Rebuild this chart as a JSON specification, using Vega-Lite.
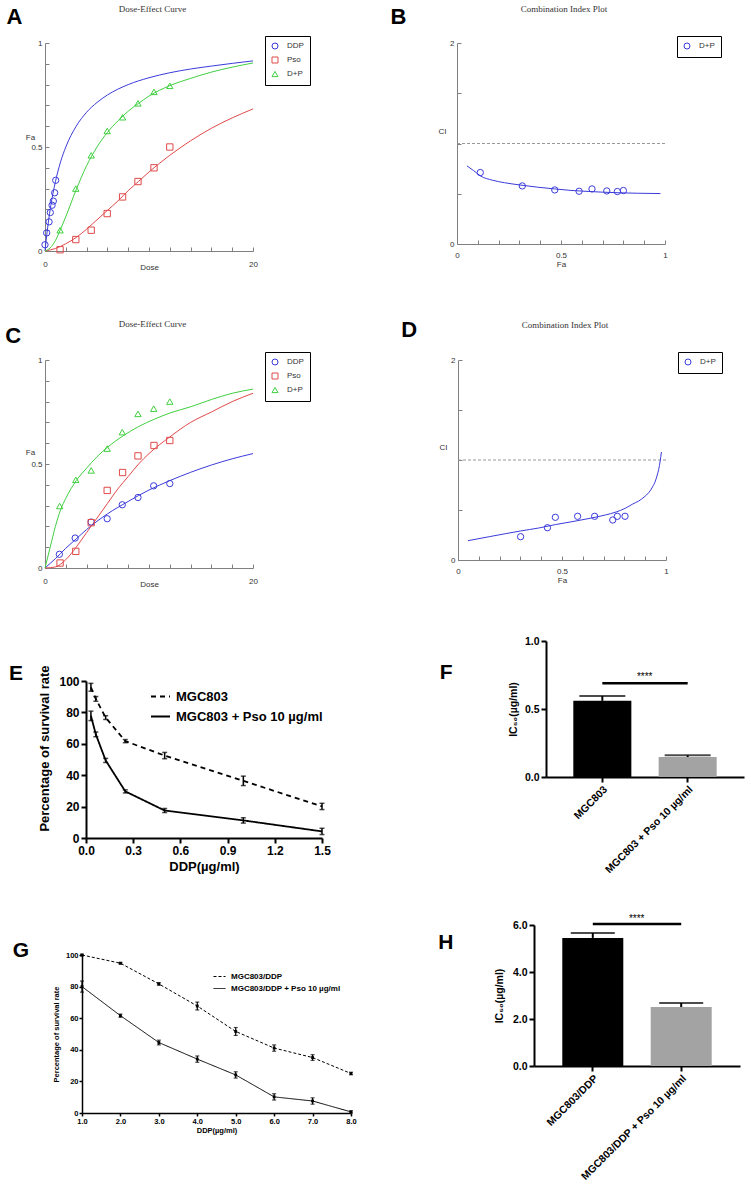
{
  "$schema": "https://vega.github.io/schema/vega-lite/v6.json",
  "padding": 5,
  "background": "white",
  "config": {"view": {"stroke": null}, "font": "Liberation Sans", "axis": {"grid": false, "labelOverlap": false, "labelFlush": false}},
  "resolve": {"scale": {"color": "independent", "stroke": "independent", "shape": "independent", "strokeDash": "independent"}, "legend": {"color": "independent", "stroke": "independent", "shape": "independent", "strokeDash": "independent"}},
  "datasets": {
    "curveA": [
      {"curve":"DDP","dose":0,"fa":0},{"curve":"DDP","dose":0.25,"fa":0.111},{"curve":"DDP","dose":0.5,"fa":0.2},{"curve":"DDP","dose":0.75,"fa":0.273},{"curve":"DDP","dose":1,"fa":0.333},{"curve":"DDP","dose":1.5,"fa":0.429},{"curve":"DDP","dose":2,"fa":0.5},{"curve":"DDP","dose":3,"fa":0.6},{"curve":"DDP","dose":4,"fa":0.667},{"curve":"DDP","dose":5,"fa":0.714},{"curve":"DDP","dose":6,"fa":0.75},{"curve":"DDP","dose":8,"fa":0.8},{"curve":"DDP","dose":10,"fa":0.833},{"curve":"DDP","dose":12,"fa":0.857},{"curve":"DDP","dose":14,"fa":0.875},{"curve":"DDP","dose":16,"fa":0.889},{"curve":"DDP","dose":18,"fa":0.902},{"curve":"DDP","dose":20,"fa":0.914},
      {"curve":"Pso","dose":0,"fa":0},{"curve":"Pso","dose":1,"fa":0.012},{"curve":"Pso","dose":2,"fa":0.035},{"curve":"Pso","dose":3,"fa":0.065},{"curve":"Pso","dose":4,"fa":0.105},{"curve":"Pso","dose":5,"fa":0.15},{"curve":"Pso","dose":6,"fa":0.195},{"curve":"Pso","dose":7,"fa":0.24},{"curve":"Pso","dose":8,"fa":0.29},{"curve":"Pso","dose":9,"fa":0.335},{"curve":"Pso","dose":10,"fa":0.38},{"curve":"Pso","dose":12,"fa":0.46},{"curve":"Pso","dose":14,"fa":0.53},{"curve":"Pso","dose":16,"fa":0.59},{"curve":"Pso","dose":18,"fa":0.64},{"curve":"Pso","dose":20,"fa":0.683},
      {"curve":"D+P","dose":0,"fa":0},{"curve":"D+P","dose":0.5,"fa":0.015},{"curve":"D+P","dose":1,"fa":0.05},{"curve":"D+P","dose":1.5,"fa":0.105},{"curve":"D+P","dose":2,"fa":0.165},{"curve":"D+P","dose":3,"fa":0.295},{"curve":"D+P","dose":4,"fa":0.41},{"curve":"D+P","dose":5,"fa":0.5},{"curve":"D+P","dose":6,"fa":0.57},{"curve":"D+P","dose":7,"fa":0.625},{"curve":"D+P","dose":8,"fa":0.672},{"curve":"D+P","dose":9,"fa":0.71},{"curve":"D+P","dose":10,"fa":0.745},{"curve":"D+P","dose":12,"fa":0.795},{"curve":"D+P","dose":14,"fa":0.83},{"curve":"D+P","dose":16,"fa":0.86},{"curve":"D+P","dose":18,"fa":0.884},{"curve":"D+P","dose":20,"fa":0.904}
    ],
    "ptsA": [
      {"drug":"DDP","dose":0,"fa":0.03},{"drug":"DDP","dose":0.16,"fa":0.087},{"drug":"DDP","dose":0.39,"fa":0.14},{"drug":"DDP","dose":0.51,"fa":0.185},{"drug":"DDP","dose":0.68,"fa":0.22},{"drug":"DDP","dose":0.8,"fa":0.24},{"drug":"DDP","dose":0.93,"fa":0.28},{"drug":"DDP","dose":1.03,"fa":0.34},
      {"drug":"Pso","dose":1.45,"fa":0.006},{"drug":"Pso","dose":2.96,"fa":0.055},{"drug":"Pso","dose":4.44,"fa":0.1},{"drug":"Pso","dose":5.98,"fa":0.18},{"drug":"Pso","dose":7.46,"fa":0.26},{"drug":"Pso","dose":8.94,"fa":0.334},{"drug":"Pso","dose":10.48,"fa":0.4},{"drug":"Pso","dose":12,"fa":0.5},
      {"drug":"D+P","dose":1.45,"fa":0.1},{"drug":"D+P","dose":2.96,"fa":0.3},{"drug":"D+P","dose":4.44,"fa":0.46},{"drug":"D+P","dose":5.98,"fa":0.577},{"drug":"D+P","dose":7.46,"fa":0.643},{"drug":"D+P","dose":8.94,"fa":0.71},{"drug":"D+P","dose":10.48,"fa":0.765},{"drug":"D+P","dose":12,"fa":0.794}
    ],
    "curveC": [
      {"curve":"DDP","dose":0,"fa":0},{"curve":"DDP","dose":1,"fa":0.045},{"curve":"DDP","dose":2,"fa":0.095},{"curve":"DDP","dose":3,"fa":0.14},{"curve":"DDP","dose":4,"fa":0.185},{"curve":"DDP","dose":6,"fa":0.26},{"curve":"DDP","dose":8,"fa":0.32},{"curve":"DDP","dose":10,"fa":0.375},{"curve":"DDP","dose":12,"fa":0.42},{"curve":"DDP","dose":14,"fa":0.46},{"curve":"DDP","dose":16,"fa":0.495},{"curve":"DDP","dose":18,"fa":0.525},{"curve":"DDP","dose":20,"fa":0.55},
      {"curve":"Pso","dose":0,"fa":0},{"curve":"Pso","dose":1,"fa":0.005},{"curve":"Pso","dose":2,"fa":0.04},{"curve":"Pso","dose":3,"fa":0.1},{"curve":"Pso","dose":4,"fa":0.17},{"curve":"Pso","dose":5,"fa":0.24},{"curve":"Pso","dose":6,"fa":0.31},{"curve":"Pso","dose":7,"fa":0.38},{"curve":"Pso","dose":8,"fa":0.44},{"curve":"Pso","dose":9,"fa":0.5},{"curve":"Pso","dose":10,"fa":0.55},{"curve":"Pso","dose":12,"fa":0.63},{"curve":"Pso","dose":14,"fa":0.7},{"curve":"Pso","dose":16,"fa":0.75},{"curve":"Pso","dose":18,"fa":0.8},{"curve":"Pso","dose":20,"fa":0.84},
      {"curve":"D+P","dose":0,"fa":0},{"curve":"D+P","dose":0.5,"fa":0.1},{"curve":"D+P","dose":1,"fa":0.2},{"curve":"D+P","dose":1.5,"fa":0.28},{"curve":"D+P","dose":2,"fa":0.335},{"curve":"D+P","dose":3,"fa":0.42},{"curve":"D+P","dose":4,"fa":0.48},{"curve":"D+P","dose":5,"fa":0.535},{"curve":"D+P","dose":6,"fa":0.58},{"curve":"D+P","dose":7.5,"fa":0.635},{"curve":"D+P","dose":9,"fa":0.68},{"curve":"D+P","dose":10.5,"fa":0.715},{"curve":"D+P","dose":12,"fa":0.745},{"curve":"D+P","dose":14,"fa":0.775},{"curve":"D+P","dose":16,"fa":0.81},{"curve":"D+P","dose":18,"fa":0.84},{"curve":"D+P","dose":20,"fa":0.86}
    ],
    "ptsC": [
      {"drug":"DDP","dose":1.38,"fa":0.066},{"drug":"DDP","dose":2.9,"fa":0.144},{"drug":"DDP","dose":4.44,"fa":0.221},{"drug":"DDP","dose":5.98,"fa":0.237},{"drug":"DDP","dose":7.43,"fa":0.304},{"drug":"DDP","dose":8.94,"fa":0.339},{"drug":"DDP","dose":10.45,"fa":0.395},{"drug":"DDP","dose":12,"fa":0.406},
      {"drug":"Pso","dose":1.45,"fa":0.024},{"drug":"Pso","dose":2.96,"fa":0.08},{"drug":"Pso","dose":4.44,"fa":0.218},{"drug":"Pso","dose":5.98,"fa":0.373},{"drug":"Pso","dose":7.46,"fa":0.459},{"drug":"Pso","dose":8.94,"fa":0.539},{"drug":"Pso","dose":10.48,"fa":0.589},{"drug":"Pso","dose":12,"fa":0.613},
      {"drug":"D+P","dose":1.41,"fa":0.298},{"drug":"D+P","dose":2.96,"fa":0.424},{"drug":"D+P","dose":4.44,"fa":0.469},{"drug":"D+P","dose":5.98,"fa":0.574},{"drug":"D+P","dose":7.43,"fa":0.653},{"drug":"D+P","dose":8.94,"fa":0.741},{"drug":"D+P","dose":10.45,"fa":0.766},{"drug":"D+P","dose":12,"fa":0.8}
    ],
    "curveB": [
      {"fa":0.048,"ci":0.777},{"fa":0.08,"ci":0.73},{"fa":0.115,"ci":0.675},{"fa":0.17,"ci":0.635},{"fa":0.228,"ci":0.61},{"fa":0.3,"ci":0.588},{"fa":0.388,"ci":0.565},{"fa":0.47,"ci":0.548},{"fa":0.548,"ci":0.533},{"fa":0.63,"ci":0.523},{"fa":0.708,"ci":0.515},{"fa":0.79,"ci":0.509},{"fa":0.869,"ci":0.505},{"fa":0.978,"ci":0.502}
    ],
    "ptsB": [
      {"drug":"D+P","fa":0.112,"ci":0.711},{"drug":"D+P","fa":0.314,"ci":0.578},{"drug":"D+P","fa":0.47,"ci":0.538},{"drug":"D+P","fa":0.587,"ci":0.525},{"drug":"D+P","fa":0.649,"ci":0.548},{"drug":"D+P","fa":0.72,"ci":0.528},{"drug":"D+P","fa":0.771,"ci":0.522},{"drug":"D+P","fa":0.8,"ci":0.532}
    ],
    "curveD": [
      {"fa":0.048,"ci":0.193},{"fa":0.15,"ci":0.233},{"fa":0.228,"ci":0.263},{"fa":0.3,"ci":0.29},{"fa":0.388,"ci":0.32},{"fa":0.47,"ci":0.355},{"fa":0.548,"ci":0.383},{"fa":0.63,"ci":0.415},{"fa":0.708,"ci":0.45},{"fa":0.76,"ci":0.48},{"fa":0.804,"ci":0.517},{"fa":0.84,"ci":0.56},{"fa":0.869,"ci":0.59},{"fa":0.895,"ci":0.63},{"fa":0.917,"ci":0.673},{"fa":0.935,"ci":0.73},{"fa":0.949,"ci":0.79},{"fa":0.958,"ci":0.85},{"fa":0.965,"ci":0.907},{"fa":0.972,"ci":0.99},{"fa":0.978,"ci":1.08}
    ],
    "ptsD": [
      {"drug":"D+P","fa":0.301,"ci":0.233},{"drug":"D+P","fa":0.43,"ci":0.323},{"drug":"D+P","fa":0.468,"ci":0.427},{"drug":"D+P","fa":0.575,"ci":0.437},{"drug":"D+P","fa":0.657,"ci":0.437},{"drug":"D+P","fa":0.744,"ci":0.4},{"drug":"D+P","fa":0.766,"ci":0.437},{"drug":"D+P","fa":0.803,"ci":0.437}
    ],
    "survE": [
      {"series":"MGC803","dose":0.03125,"mean":96,"lo":93.5,"hi":98.5},{"series":"MGC803","dose":0.0625,"mean":88.6,"lo":87.1,"hi":90.1},{"series":"MGC803","dose":0.125,"mean":76.7,"lo":75.5,"hi":77.9},{"series":"MGC803","dose":0.25,"mean":61.7,"lo":60.7,"hi":62.7},{"series":"MGC803","dose":0.5,"mean":52.5,"lo":50.5,"hi":54.5},{"series":"MGC803","dose":1,"mean":36.4,"lo":33.4,"hi":39.4},{"series":"MGC803","dose":1.5,"mean":20.1,"lo":18.1,"hi":22.1},
      {"series":"MGC803 + Pso 10 µg/ml","dose":0.03125,"mean":77.8,"lo":74.8,"hi":80.8},{"series":"MGC803 + Pso 10 µg/ml","dose":0.0625,"mean":66,"lo":64.5,"hi":67.5},{"series":"MGC803 + Pso 10 µg/ml","dose":0.125,"mean":49.4,"lo":48.1,"hi":50.7},{"series":"MGC803 + Pso 10 µg/ml","dose":0.25,"mean":29.7,"lo":28.7,"hi":30.7},{"series":"MGC803 + Pso 10 µg/ml","dose":0.5,"mean":17.5,"lo":16.2,"hi":18.8},{"series":"MGC803 + Pso 10 µg/ml","dose":1,"mean":11.2,"lo":9.5,"hi":12.9},{"series":"MGC803 + Pso 10 µg/ml","dose":1.5,"mean":4.2,"lo":2.2,"hi":6.2}
    ],
    "icF": [
      {"grp":"MGC803","ic50":0.56,"hi":0.595},{"grp":"MGC803 + Pso 10 µg/ml","ic50":0.147,"hi":0.16}
    ],
    "survG": [
      {"series":"MGC803/DDP","dose":1,"mean":100,"lo":99.5,"hi":100.5},{"series":"MGC803/DDP","dose":2,"mean":94.8,"lo":94.3,"hi":95.3},{"series":"MGC803/DDP","dose":3,"mean":81.7,"lo":80.9,"hi":82.5},{"series":"MGC803/DDP","dose":4,"mean":67.7,"lo":65.2,"hi":70.2},{"series":"MGC803/DDP","dose":5,"mean":51.6,"lo":49.1,"hi":54.1},{"series":"MGC803/DDP","dose":6,"mean":41.1,"lo":39.1,"hi":43.1},{"series":"MGC803/DDP","dose":7,"mean":35.1,"lo":33.3,"hi":36.9},{"series":"MGC803/DDP","dose":8,"mean":25,"lo":24.2,"hi":25.8},
      {"series":"MGC803/DDP + Pso 10 µg/ml","dose":1,"mean":80,"lo":76.5,"hi":83.5},{"series":"MGC803/DDP + Pso 10 µg/ml","dose":2,"mean":61.6,"lo":60.6,"hi":62.6},{"series":"MGC803/DDP + Pso 10 µg/ml","dose":3,"mean":44.6,"lo":43.1,"hi":46.1},{"series":"MGC803/DDP + Pso 10 µg/ml","dose":4,"mean":34.1,"lo":32.1,"hi":36.1},{"series":"MGC803/DDP + Pso 10 µg/ml","dose":5,"mean":24.1,"lo":22.1,"hi":26.1},{"series":"MGC803/DDP + Pso 10 µg/ml","dose":6,"mean":10.2,"lo":8.2,"hi":12.2},{"series":"MGC803/DDP + Pso 10 µg/ml","dose":7,"mean":7.6,"lo":5.6,"hi":9.6},{"series":"MGC803/DDP + Pso 10 µg/ml","dose":8,"mean":0.7,"lo":0,"hi":1.4}
    ],
    "icH": [
      {"grp":"MGC803/DDP","ic50":5.45,"hi":5.66},{"grp":"MGC803/DDP + Pso 10 µg/ml","ic50":2.51,"hi":2.68}
    ]
  },
  "vconcat": [
    {
      "spacing": 48,
      "resolve": {"scale": {"color": "independent", "stroke": "independent", "shape": "independent", "strokeDash": "independent"}, "legend": {"color": "independent", "stroke": "independent", "shape": "independent", "strokeDash": "independent"}},
      "vconcat": [
        {
          "spacing": 79,
          "resolve": {"scale": {"color": "independent", "stroke": "independent", "shape": "independent", "strokeDash": "independent"}, "legend": {"color": "independent", "stroke": "independent", "shape": "independent", "strokeDash": "independent"}},
          "hconcat": [
            {
              "width": 208, "height": 208,
              "layer": [
                {"data": {"name": "curveA"}, "mark": {"type": "line", "strokeWidth": 1, "interpolate": "monotone"},
                 "encoding": {
                   "x": {"field": "dose", "type": "quantitative", "scale": {"domain": [0, 20], "nice": false, "zero": false},
                         "axis": {"title": "Dose", "values": [0,2,4,6,8,10,12,14,16,18,20], "tickCount": 30, "format": "~g", "labelExpr": "datum.value==0||datum.value==20?datum.label:''", "domainColor": "#808080", "tickColor": "#808080", "tickSize": -4, "labelPadding": 13, "labelFontSize": 8, "labelColor": "#333", "titleFontSize": 8, "titleFontWeight": "normal", "titleColor": "#333", "titlePadding": -5, "labelOverlap": false}},
                   "y": {"field": "fa", "type": "quantitative", "scale": {"domain": [0, 1], "nice": false},
                         "axis": {"title": "Fa", "values": [0,0.1,0.2,0.3,0.4,0.5,0.6,0.7,0.8,0.9,1], "tickCount": 30, "format": "~g", "labelExpr": "datum.value==0||datum.value==0.5||datum.value==1?datum.label:''", "domainColor": "#808080", "tickColor": "#808080", "tickSize": -4, "labelPadding": 7, "labelFontSize": 8, "labelColor": "#333", "titleFontSize": 8, "titleFontWeight": "normal", "titleColor": "#333", "titleAngle": 0, "titleX": -15, "titleY": 94, "titleAlign": "center", "titleBaseline": "middle", "labelOverlap": false}},
                   "stroke": {"field": "curve", "type": "nominal", "scale": {"domain": ["D+P","DDP","Pso"], "range": ["#40cf40","#3b3bdb","#e04a4a"]}, "legend": null}
                 }},
                {"data": {"name": "ptsA"}, "mark": {"type": "point", "filled": false, "size": 40, "strokeWidth": 1, "opacity": 1},
                 "encoding": {
                   "x": {"field": "dose", "type": "quantitative", "scale": {"domain": [0, 20], "nice": false, "zero": false}},
                   "y": {"field": "fa", "type": "quantitative", "scale": {"domain": [0, 1], "nice": false}},
                   "color": {"field": "drug", "type": "nominal", "scale": {"domain": ["DDP","Pso","D+P"], "range": ["#3b3bdb","#e04a4a","#40cf40"]},
                             "legend": {"orient": "none", "legendX": 220, "legendY": -7, "title": null, "strokeColor": "black", "fillColor": "white", "padding": 6, "labelFontSize": 8, "labelColor": "#333", "symbolSize": 36, "symbolStrokeWidth": 1, "rowPadding": 4, "labelOffset": 8}},
                   "shape": {"field": "drug", "type": "nominal", "scale": {"domain": ["DDP","Pso","D+P"], "range": ["circle","square","triangle-up"]},
                             "legend": {"orient": "none", "legendX": 220, "legendY": -7, "title": null, "strokeColor": "black", "fillColor": "white", "padding": 6, "labelFontSize": 8, "labelColor": "#333", "symbolSize": 36, "symbolStrokeWidth": 1, "rowPadding": 4, "labelOffset": 8}}
                 }},
                {"data": {"values": [{"t": "Dose-Effect Curve"}]}, "mark": {"type": "text", "font": "Liberation Serif", "fontSize": 9, "color": "#333"},
                 "encoding": {"x": {"datum": 10.34, "type": "quantitative", "scale": {"domain": [0, 20], "nice": false, "zero": false}}, "y": {"datum": 1.163, "type": "quantitative", "scale": {"domain": [0, 1], "nice": false}}, "text": {"field": "t"}}},
                {"data": {"values": [{"t": "A"}]}, "mark": {"type": "text", "fontSize": 22, "fontWeight": "bold", "color": "black"},
                 "encoding": {"x": {"datum": -2.93, "type": "quantitative", "scale": {"domain": [0, 20], "nice": false, "zero": false}}, "y": {"datum": 1.126, "type": "quantitative", "scale": {"domain": [0, 1], "nice": false}}, "text": {"field": "t"}}}
              ]
            },
            {
              "width": 208, "height": 201,
              "layer": [
                {"data": {"values": [{}]}, "mark": {"type": "rule", "color": "#999", "strokeDash": [3, 2], "strokeWidth": 1},
                 "encoding": {"y": {"datum": 1, "type": "quantitative", "scale": {"domain": [0, 2], "nice": false}}}},
                {"data": {"name": "curveB"}, "mark": {"type": "line", "strokeWidth": 1, "interpolate": "monotone", "color": "#3b3bdb"},
                 "encoding": {
                   "x": {"field": "fa", "type": "quantitative", "scale": {"domain": [0, 1], "nice": false},
                         "axis": {"title": "Fa", "values": [0,0.1,0.2,0.3,0.4,0.5,0.6,0.7,0.8,0.9,1], "tickCount": 30, "format": "~g", "labelExpr": "datum.value==0||datum.value==0.5||datum.value==1?datum.label:''", "domainColor": "#808080", "tickColor": "#808080", "tickSize": -4, "labelPadding": 11, "labelFontSize": 8, "labelColor": "#333", "titleFontSize": 8, "titleFontWeight": "normal", "titleColor": "#333", "titlePadding": 1, "labelOverlap": false}},
                   "y": {"field": "ci", "type": "quantitative", "scale": {"domain": [0, 2], "nice": false},
                         "axis": {"title": "CI", "values": [0,0.5,1,1.5,2], "tickCount": 30, "format": "~g", "labelExpr": "datum.value==0||datum.value==2?datum.label:''", "domainColor": "#808080", "tickColor": "#808080", "tickSize": -4, "labelPadding": 7, "labelFontSize": 8, "labelColor": "#333", "titleFontSize": 8, "titleFontWeight": "normal", "titleColor": "#333", "titleAngle": 0, "titleX": -15, "titleY": 88, "titleAlign": "center", "titleBaseline": "middle", "labelOverlap": false}}
                 }},
                {"data": {"name": "ptsB"}, "mark": {"type": "point", "filled": false, "size": 40, "strokeWidth": 1, "opacity": 1},
                 "encoding": {
                   "x": {"field": "fa", "type": "quantitative", "scale": {"domain": [0, 1], "nice": false}},
                   "y": {"field": "ci", "type": "quantitative", "scale": {"domain": [0, 2], "nice": false}},
                   "color": {"field": "drug", "type": "nominal", "scale": {"domain": ["D+P"], "range": ["#3b3bdb"]},
                             "legend": {"orient": "none", "legendX": 220, "legendY": -7, "title": null, "strokeColor": "black", "fillColor": "white", "padding": 6, "labelFontSize": 8, "labelColor": "#333", "symbolSize": 36, "symbolStrokeWidth": 1, "labelOffset": 8}}
                 }},
                {"data": {"values": [{"t": "Combination Index Plot"}]}, "mark": {"type": "text", "font": "Liberation Serif", "fontSize": 9, "color": "#333"},
                 "encoding": {"x": {"datum": 0.514, "type": "quantitative", "scale": {"domain": [0, 1], "nice": false}}, "y": {"datum": 2.338, "type": "quantitative", "scale": {"domain": [0, 2], "nice": false}}, "text": {"field": "t"}}},
                {"data": {"values": [{"t": "B"}]}, "mark": {"type": "text", "fontSize": 22, "fontWeight": "bold", "color": "black"},
                 "encoding": {"x": {"datum": -0.281, "type": "quantitative", "scale": {"domain": [0, 1], "nice": false}}, "y": {"datum": 2.259, "type": "quantitative", "scale": {"domain": [0, 2], "nice": false}}, "text": {"field": "t"}}}
              ]
            }
          ]
        },
        {
          "spacing": 90,
          "resolve": {"scale": {"color": "independent", "stroke": "independent", "shape": "independent", "strokeDash": "independent"}, "legend": {"color": "independent", "stroke": "independent", "shape": "independent", "strokeDash": "independent"}},
          "hconcat": [
            {
              "width": 208, "height": 208,
              "layer": [
                {"data": {"name": "curveC"}, "mark": {"type": "line", "strokeWidth": 1, "interpolate": "monotone"},
                 "encoding": {
                   "x": {"field": "dose", "type": "quantitative", "scale": {"domain": [0, 20], "nice": false, "zero": false},
                         "axis": {"title": "Dose", "values": [0,2,4,6,8,10,12,14,16,18,20], "tickCount": 30, "format": "~g", "labelExpr": "datum.value==0||datum.value==20?datum.label:''", "domainColor": "#808080", "tickColor": "#808080", "tickSize": -4, "labelPadding": 13, "labelFontSize": 8, "labelColor": "#333", "titleFontSize": 8, "titleFontWeight": "normal", "titleColor": "#333", "titlePadding": -5, "labelOverlap": false}},
                   "y": {"field": "fa", "type": "quantitative", "scale": {"domain": [0, 1], "nice": false},
                         "axis": {"title": "Fa", "values": [0,0.1,0.2,0.3,0.4,0.5,0.6,0.7,0.8,0.9,1], "tickCount": 30, "format": "~g", "labelExpr": "datum.value==0||datum.value==0.5||datum.value==1?datum.label:''", "domainColor": "#808080", "tickColor": "#808080", "tickSize": -4, "labelPadding": 7, "labelFontSize": 8, "labelColor": "#333", "titleFontSize": 8, "titleFontWeight": "normal", "titleColor": "#333", "titleAngle": 0, "titleX": -15, "titleY": 92, "titleAlign": "center", "titleBaseline": "middle", "labelOverlap": false}},
                   "stroke": {"field": "curve", "type": "nominal", "scale": {"domain": ["D+P","DDP","Pso"], "range": ["#40cf40","#3b3bdb","#e04a4a"]}, "legend": null}
                 }},
                {"data": {"name": "ptsC"}, "mark": {"type": "point", "filled": false, "size": 40, "strokeWidth": 1, "opacity": 1},
                 "encoding": {
                   "x": {"field": "dose", "type": "quantitative", "scale": {"domain": [0, 20], "nice": false, "zero": false}},
                   "y": {"field": "fa", "type": "quantitative", "scale": {"domain": [0, 1], "nice": false}},
                   "color": {"field": "drug", "type": "nominal", "scale": {"domain": ["DDP","Pso","D+P"], "range": ["#3b3bdb","#e04a4a","#40cf40"]},
                             "legend": {"orient": "none", "legendX": 220, "legendY": -8, "title": null, "strokeColor": "black", "fillColor": "white", "padding": 6, "labelFontSize": 8, "labelColor": "#333", "symbolSize": 36, "symbolStrokeWidth": 1, "rowPadding": 4, "labelOffset": 8}},
                   "shape": {"field": "drug", "type": "nominal", "scale": {"domain": ["DDP","Pso","D+P"], "range": ["circle","square","triangle-up"]},
                             "legend": {"orient": "none", "legendX": 220, "legendY": -8, "title": null, "strokeColor": "black", "fillColor": "white", "padding": 6, "labelFontSize": 8, "labelColor": "#333", "symbolSize": 36, "symbolStrokeWidth": 1, "rowPadding": 4, "labelOffset": 8}}
                 }},
                {"data": {"values": [{"t": "Dose-Effect Curve"}]}, "mark": {"type": "text", "font": "Liberation Serif", "fontSize": 9, "color": "#333"},
                 "encoding": {"x": {"datum": 10.34, "type": "quantitative", "scale": {"domain": [0, 20], "nice": false, "zero": false}}, "y": {"datum": 1.173, "type": "quantitative", "scale": {"domain": [0, 1], "nice": false}}, "text": {"field": "t"}}},
                {"data": {"values": [{"t": "C"}]}, "mark": {"type": "text", "fontSize": 22, "fontWeight": "bold", "color": "black"},
                 "encoding": {"x": {"datum": -3.05, "type": "quantitative", "scale": {"domain": [0, 20], "nice": false, "zero": false}}, "y": {"datum": 1.117, "type": "quantitative", "scale": {"domain": [0, 1], "nice": false}}, "text": {"field": "t"}}}
              ]
            },
            {
              "width": 208, "height": 200,
              "layer": [
                {"data": {"values": [{}]}, "mark": {"type": "rule", "color": "#999", "strokeDash": [3, 2], "strokeWidth": 1},
                 "encoding": {"y": {"datum": 1, "type": "quantitative", "scale": {"domain": [0, 2], "nice": false}}}},
                {"data": {"name": "curveD"}, "mark": {"type": "line", "strokeWidth": 1, "interpolate": "monotone", "color": "#3b3bdb"},
                 "encoding": {
                   "x": {"field": "fa", "type": "quantitative", "scale": {"domain": [0, 1], "nice": false},
                         "axis": {"title": "Fa", "values": [0,0.1,0.2,0.3,0.4,0.5,0.6,0.7,0.8,0.9,1], "tickCount": 30, "format": "~g", "labelExpr": "datum.value==0||datum.value==0.5||datum.value==1?datum.label:''", "domainColor": "#808080", "tickColor": "#808080", "tickSize": -4, "labelPadding": 11, "labelFontSize": 8, "labelColor": "#333", "titleFontSize": 8, "titleFontWeight": "normal", "titleColor": "#333", "titlePadding": 1, "labelOverlap": false}},
                   "y": {"field": "ci", "type": "quantitative", "scale": {"domain": [0, 2], "nice": false},
                         "axis": {"title": "CI", "values": [0,0.5,1,1.5,2], "tickCount": 30, "format": "~g", "labelExpr": "datum.value==0||datum.value==2?datum.label:''", "domainColor": "#808080", "tickColor": "#808080", "tickSize": -4, "labelPadding": 7, "labelFontSize": 8, "labelColor": "#333", "titleFontSize": 8, "titleFontWeight": "normal", "titleColor": "#333", "titleAngle": 0, "titleX": -15, "titleY": 87, "titleAlign": "center", "titleBaseline": "middle", "labelOverlap": false}}
                 }},
                {"data": {"name": "ptsD"}, "mark": {"type": "point", "filled": false, "size": 40, "strokeWidth": 1, "opacity": 1},
                 "encoding": {
                   "x": {"field": "fa", "type": "quantitative", "scale": {"domain": [0, 1], "nice": false}},
                   "y": {"field": "ci", "type": "quantitative", "scale": {"domain": [0, 2], "nice": false}},
                   "color": {"field": "drug", "type": "nominal", "scale": {"domain": ["D+P"], "range": ["#3b3bdb"]},
                             "legend": {"orient": "none", "legendX": 220, "legendY": -8, "title": null, "strokeColor": "black", "fillColor": "white", "padding": 6, "labelFontSize": 8, "labelColor": "#333", "symbolSize": 36, "symbolStrokeWidth": 1, "labelOffset": 8}}
                 }},
                {"data": {"values": [{"t": "Combination Index Plot"}]}, "mark": {"type": "text", "font": "Liberation Serif", "fontSize": 9, "color": "#333"},
                 "encoding": {"x": {"datum": 0.514, "type": "quantitative", "scale": {"domain": [0, 1], "nice": false}}, "y": {"datum": 2.353, "type": "quantitative", "scale": {"domain": [0, 2], "nice": false}}, "text": {"field": "t"}}},
                {"data": {"values": [{"t": "D"}]}, "mark": {"type": "text", "fontSize": 22, "fontWeight": "bold", "color": "black"},
                 "encoding": {"x": {"datum": -0.235, "type": "quantitative", "scale": {"domain": [0, 1], "nice": false}}, "y": {"datum": 2.297, "type": "quantitative", "scale": {"domain": [0, 2], "nice": false}}, "text": {"field": "t"}}}
              ]
            }
          ]
        },
        {
          "spacing": 108,
          "resolve": {"scale": {"color": "independent", "stroke": "independent", "shape": "independent", "strokeDash": "independent"}, "legend": {"color": "independent", "stroke": "independent", "shape": "independent", "strokeDash": "independent"}},
          "hconcat": [
            {
              "width": 277, "height": 197,
              "layer": [
                {"data": {"name": "survE"}, "mark": {"type": "line", "strokeWidth": 1.8, "color": "black"},
                 "encoding": {
                   "x": {"field": "dose", "type": "quantitative", "title": "DDP(µg/ml)", "scale": {"domain": [0, 1.5], "nice": false, "zero": false, "range": [41, 277]},
                         "axis": {"values": [0,0.3,0.6,0.9,1.2,1.5], "tickCount": 30, "format": ".1f", "domainColor": "black", "domainWidth": 2, "tickColor": "black", "tickWidth": 2, "tickSize": 5, "labelPadding": 2, "labelFontSize": 12, "labelFontWeight": "bold", "labelColor": "black", "titleFontSize": 13, "titleFontWeight": "bold", "titleColor": "black", "titlePadding": 4, "labelOverlap": false}},
                   "y": {"field": "mean", "type": "quantitative", "title": "Percentage of survival rate", "scale": {"domain": [0, 100], "nice": false, "range": [197, 40]},
                         "axis": {"offset": -41, "values": [0,20,40,60,80,100], "tickCount": 30, "domainColor": "black", "domainWidth": 2, "tickColor": "black", "tickWidth": 2, "tickSize": 5, "labelPadding": 2, "labelFontSize": 12, "labelFontWeight": "bold", "labelColor": "black", "titleFontSize": 13, "titleFontWeight": "bold", "titleColor": "black", "titlePadding": 7, "titleY": 107, "labelOverlap": false}},
                   "strokeDash": {"field": "series", "type": "nominal", "scale": {"domain": ["MGC803", "MGC803 + Pso 10 µg/ml"], "range": [[5, 4], [1, 0]]},
                                  "legend": {"orient": "none", "legendX": 105, "legendY": 45, "title": null, "symbolType": "stroke", "symbolSize": 361, "symbolStrokeWidth": 2, "symbolStrokeColor": "black", "labelFontSize": 13, "labelFontWeight": "bold", "labelColor": "black", "labelOffset": 5, "rowPadding": 2, "padding": 0}}
                 }},
                {"data": {"name": "survE"}, "mark": {"type": "rule", "color": "black", "strokeWidth": 1.5},
                 "encoding": {
                   "x": {"field": "dose", "type": "quantitative", "title": "DDP(µg/ml)", "scale": {"domain": [0, 1.5], "nice": false, "zero": false, "range": [41, 277]}},
                   "y": {"field": "lo", "type": "quantitative", "title": "Percentage of survival rate", "scale": {"domain": [0, 100], "nice": false, "range": [197, 40]}},
                   "y2": {"field": "hi"}
                 }},
                {"data": {"name": "survE"}, "mark": {"type": "tick", "orient": "horizontal", "color": "black", "size": 5, "thickness": 1.5},
                 "encoding": {
                   "x": {"field": "dose", "type": "quantitative", "title": "DDP(µg/ml)", "scale": {"domain": [0, 1.5], "nice": false, "zero": false, "range": [41, 277]}},
                   "y": {"field": "hi", "type": "quantitative", "title": "Percentage of survival rate", "scale": {"domain": [0, 100], "nice": false, "range": [197, 40]}}
                 }},
                {"data": {"name": "survE"}, "mark": {"type": "tick", "orient": "horizontal", "color": "black", "size": 5, "thickness": 1.5},
                 "encoding": {
                   "x": {"field": "dose", "type": "quantitative", "title": "DDP(µg/ml)", "scale": {"domain": [0, 1.5], "nice": false, "zero": false, "range": [41, 277]}},
                   "y": {"field": "lo", "type": "quantitative", "title": "Percentage of survival rate", "scale": {"domain": [0, 100], "nice": false, "range": [197, 40]}}
                 }},
                {"data": {"values": [{"t": "E"}]}, "mark": {"type": "text", "fontSize": 21, "fontWeight": "bold", "color": "black"},
                 "encoding": {"x": {"datum": -0.445, "type": "quantitative", "title": "DDP(µg/ml)", "scale": {"domain": [0, 1.5], "nice": false, "zero": false, "range": [41, 277]}}, "y": {"datum": 104.4, "type": "quantitative", "title": "Percentage of survival rate", "scale": {"domain": [0, 100], "nice": false, "range": [197, 40]}}, "text": {"field": "t"}}}
              ]
            },
            {
              "width": 198, "height": 136,
              "layer": [
                {"data": {"name": "icF"}, "mark": {"type": "bar"},
                 "encoding": {
                   "x": {"field": "grp", "type": "nominal", "sort": null, "title": null, "scale": {"domain": ["MGC803", "MGC803 + Pso 10 µg/ml"], "paddingInner": 0.32, "paddingOuter": 0.32},
                         "axis": {"labelAngle": -45, "domainColor": "black", "domainWidth": 2, "tickColor": "black", "tickWidth": 2, "tickSize": 5, "labelPadding": 2, "labelFontSize": 10.5, "labelFontWeight": "bold", "labelColor": "black"}},
                   "y": {"field": "ic50", "type": "quantitative", "title": "IC₅₀(µg/ml)", "scale": {"domain": [0, 1], "nice": false},
                         "axis": {"values": [0, 0.5, 1], "tickCount": 30, "format": ".1f", "domainColor": "black", "domainWidth": 2, "tickColor": "black", "tickWidth": 2, "tickSize": 5, "labelPadding": 2, "labelFontSize": 10.5, "labelFontWeight": "bold", "labelColor": "black", "titleFontSize": 10.5, "titleFontWeight": "bold", "titleColor": "black", "titlePadding": 6, "labelOverlap": false}},
                   "color": {"field": "grp", "type": "nominal", "scale": {"domain": ["MGC803", "MGC803 + Pso 10 µg/ml"], "range": ["black", "#a3a3a3"]}, "legend": null}
                 }},
                {"data": {"name": "icF"}, "mark": {"type": "rule", "color": "black", "strokeWidth": 2},
                 "encoding": {"x": {"field": "grp", "type": "nominal", "title": null}, "y": {"field": "ic50", "type": "quantitative", "title": "IC₅₀(µg/ml)"}, "y2": {"field": "hi"}}},
                {"data": {"name": "icF"}, "mark": {"type": "tick", "orient": "horizontal", "color": "black", "size": 46, "thickness": 2},
                 "encoding": {"x": {"field": "grp", "type": "nominal", "title": null}, "y": {"field": "hi", "type": "quantitative", "title": "IC₅₀(µg/ml)"}}},
                {"data": {"values": [{"a": "MGC803", "b": "MGC803 + Pso 10 µg/ml"}]}, "mark": {"type": "rule", "color": "black", "strokeWidth": 2.5},
                 "encoding": {"x": {"field": "a", "type": "nominal", "title": null}, "x2": {"field": "b"}, "y": {"datum": 0.69, "type": "quantitative", "title": "IC₅₀(µg/ml)"}}},
                {"data": {"values": [{"t": "****"}]}, "mark": {"type": "text", "fontSize": 10, "color": "black", "baseline": "alphabetic"},
                 "encoding": {"x": {"datum": "MGC803", "type": "nominal", "bandPosition": 1.23, "title": null}, "y": {"datum": 0.715, "type": "quantitative", "title": "IC₅₀(µg/ml)"}, "text": {"field": "t"}}},
                {"data": {"values": [{"t": "F"}]}, "mark": {"type": "text", "fontSize": 21, "fontWeight": "bold", "color": "black"},
                 "encoding": {"x": {"datum": "MGC803", "type": "nominal", "bandPosition": -2.19, "title": null}, "y": {"datum": 0.765, "type": "quantitative", "title": "IC₅₀(µg/ml)"}, "text": {"field": "t"}}}
              ]
            }
          ]
        }
      ]
    },
    {
      "spacing": 81,
      "resolve": {"scale": {"color": "independent", "stroke": "independent", "shape": "independent", "strokeDash": "independent"}, "legend": {"color": "independent", "stroke": "independent", "shape": "independent", "strokeDash": "independent"}},
      "hconcat": [
        {
          "width": 306, "height": 188,
          "layer": [
            {"data": {"name": "survG"}, "mark": {"type": "line", "strokeWidth": 1, "color": "black"},
             "encoding": {
               "x": {"field": "dose", "type": "quantitative", "title": "DDP(µg/ml)", "scale": {"domain": [1, 8], "nice": false, "zero": false, "range": [37, 306]},
                     "axis": {"values": [1,2,3,4,5,6,7,8], "tickCount": 30, "domainColor": "black", "domainWidth": 1.5, "tickColor": "black", "tickWidth": 1.5, "tickSize": 3, "labelPadding": 1, "labelFontSize": 7.5, "labelFontWeight": "bold", "labelColor": "black", "titleFontSize": 7.5, "titleFontWeight": "bold", "titleColor": "black", "titlePadding": 2, "labelOverlap": false}},
               "y": {"field": "mean", "type": "quantitative", "title": "Percentage of survival rate", "scale": {"domain": [0, 100], "nice": false, "range": [188, 30]},
                     "axis": {"offset": -37, "values": [0,20,40,60,80,100], "tickCount": 30, "domainColor": "black", "domainWidth": 1.5, "tickColor": "black", "tickWidth": 1.5, "tickSize": 3, "labelPadding": 1, "labelFontSize": 7.5, "labelFontWeight": "bold", "labelColor": "black", "titleFontSize": 7.5, "titleFontWeight": "bold", "titleColor": "black", "titlePadding": 5, "labelOverlap": false}},
               "strokeDash": {"field": "series", "type": "nominal", "scale": {"domain": ["MGC803/DDP", "MGC803/DDP + Pso 10 µg/ml"], "range": [[3, 2], [1, 0]]},
                              "legend": {"orient": "none", "legendX": 168, "legendY": 45, "title": null, "symbolType": "stroke", "symbolSize": 144, "symbolStrokeWidth": 1, "symbolStrokeColor": "black", "labelFontSize": 8, "labelFontWeight": "bold", "labelColor": "black", "labelOffset": 5, "rowPadding": 1, "padding": 0}}
             }},
            {"data": {"name": "survG"}, "mark": {"type": "rule", "color": "black", "strokeWidth": 1.2},
             "encoding": {
               "x": {"field": "dose", "type": "quantitative", "title": "DDP(µg/ml)", "scale": {"domain": [1, 8], "nice": false, "zero": false, "range": [37, 306]}},
               "y": {"field": "lo", "type": "quantitative", "title": "Percentage of survival rate", "scale": {"domain": [0, 100], "nice": false, "range": [188, 30]}},
               "y2": {"field": "hi"}
             }},
            {"data": {"name": "survG"}, "mark": {"type": "tick", "orient": "horizontal", "color": "black", "size": 4, "thickness": 1.2},
             "encoding": {
               "x": {"field": "dose", "type": "quantitative", "title": "DDP(µg/ml)", "scale": {"domain": [1, 8], "nice": false, "zero": false, "range": [37, 306]}},
               "y": {"field": "hi", "type": "quantitative", "title": "Percentage of survival rate", "scale": {"domain": [0, 100], "nice": false, "range": [188, 30]}}
             }},
            {"data": {"name": "survG"}, "mark": {"type": "tick", "orient": "horizontal", "color": "black", "size": 4, "thickness": 1.2},
             "encoding": {
               "x": {"field": "dose", "type": "quantitative", "title": "DDP(µg/ml)", "scale": {"domain": [1, 8], "nice": false, "zero": false, "range": [37, 306]}},
               "y": {"field": "lo", "type": "quantitative", "title": "Percentage of survival rate", "scale": {"domain": [0, 100], "nice": false, "range": [188, 30]}}
             }},
            {"data": {"name": "survG"}, "mark": {"type": "point", "shape": "square", "filled": true, "size": 8, "color": "black", "opacity": 1},
             "encoding": {
               "x": {"field": "dose", "type": "quantitative", "title": "DDP(µg/ml)", "scale": {"domain": [1, 8], "nice": false, "zero": false, "range": [37, 306]}},
               "y": {"field": "mean", "type": "quantitative", "title": "Percentage of survival rate", "scale": {"domain": [0, 100], "nice": false, "range": [188, 30]}}
             }},
            {"data": {"values": [{"t": "G"}]}, "mark": {"type": "text", "fontSize": 21, "fontWeight": "bold", "color": "black"},
             "encoding": {"x": {"datum": -0.587, "type": "quantitative", "title": "DDP(µg/ml)", "scale": {"domain": [1, 8], "nice": false, "zero": false, "range": [37, 306]}}, "y": {"datum": 102.5, "type": "quantitative", "title": "Percentage of survival rate", "scale": {"domain": [0, 100], "nice": false, "range": [188, 30]}}, "text": {"field": "t"}}}
          ]
        },
        {
          "width": 206, "height": 141,
          "layer": [
            {"data": {"name": "icH"}, "mark": {"type": "bar"},
             "encoding": {
               "x": {"field": "grp", "type": "nominal", "sort": null, "title": null, "scale": {"domain": ["MGC803/DDP", "MGC803/DDP + Pso 10 µg/ml"], "paddingInner": 0.31, "paddingOuter": 0.32},
                     "axis": {"labelAngle": -45, "domainColor": "black", "domainWidth": 2, "tickColor": "black", "tickWidth": 2, "tickSize": 5, "labelPadding": 2, "labelFontSize": 10.5, "labelFontWeight": "bold", "labelColor": "black"}},
               "y": {"field": "ic50", "type": "quantitative", "title": "IC₅₀(µg/ml)", "scale": {"domain": [0, 6], "nice": false},
                     "axis": {"values": [0, 2, 4, 6], "tickCount": 30, "domainColor": "black", "domainWidth": 2, "tickColor": "black", "tickWidth": 2, "tickSize": 5, "labelPadding": 2, "labelFontSize": 10.5, "labelFontWeight": "bold", "labelColor": "black", "titleFontSize": 10.5, "titleFontWeight": "bold", "titleColor": "black", "titlePadding": 8, "labelOverlap": false}},
               "color": {"field": "grp", "type": "nominal", "scale": {"domain": ["MGC803/DDP", "MGC803/DDP + Pso 10 µg/ml"], "range": ["black", "#a3a3a3"]}, "legend": null}
             }},
            {"data": {"name": "icH"}, "mark": {"type": "rule", "color": "black", "strokeWidth": 2},
             "encoding": {"x": {"field": "grp", "type": "nominal", "title": null}, "y": {"field": "ic50", "type": "quantitative", "title": "IC₅₀(µg/ml)"}, "y2": {"field": "hi"}}},
            {"data": {"name": "icH"}, "mark": {"type": "tick", "orient": "horizontal", "color": "black", "size": 44, "thickness": 2},
             "encoding": {"x": {"field": "grp", "type": "nominal", "title": null}, "y": {"field": "hi", "type": "quantitative", "title": "IC₅₀(µg/ml)"}}},
            {"data": {"values": [{"a": "MGC803/DDP", "b": "MGC803/DDP + Pso 10 µg/ml"}]}, "mark": {"type": "rule", "color": "black", "strokeWidth": 2.5},
             "encoding": {"x": {"field": "a", "type": "nominal", "title": null}, "x2": {"field": "b"}, "y": {"datum": 6.04, "type": "quantitative", "title": "IC₅₀(µg/ml)"}}},
            {"data": {"values": [{"t": "****"}]}, "mark": {"type": "text", "fontSize": 10, "color": "black", "baseline": "alphabetic"},
             "encoding": {"x": {"datum": "MGC803/DDP", "type": "nominal", "bandPosition": 1.22, "title": null}, "y": {"datum": 6.14, "type": "quantitative", "title": "IC₅₀(µg/ml)"}, "text": {"field": "t"}}},
            {"data": {"values": [{"t": "H"}]}, "mark": {"type": "text", "fontSize": 21, "fontWeight": "bold", "color": "black"},
             "encoding": {"x": {"datum": "MGC803/DDP", "type": "nominal", "bandPosition": -1.91, "title": null}, "y": {"datum": 5.23, "type": "quantitative", "title": "IC₅₀(µg/ml)"}, "text": {"field": "t"}}}
          ]
        }
      ]
    }
  ],
  "spacing": 37
}
